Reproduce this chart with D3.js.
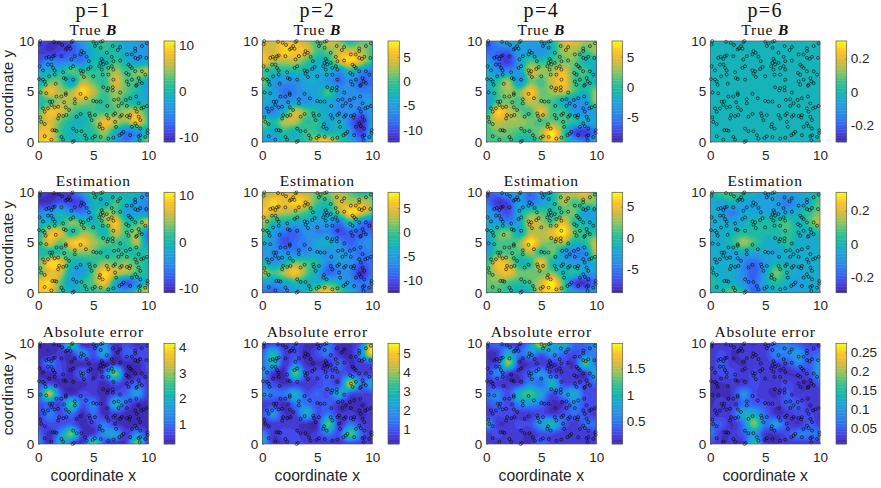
<!DOCTYPE html>
<html><head><meta charset="utf-8">
<script src="https://cdn.jsdelivr.net/npm/d3@7"></script>
<style>html,body{margin:0;padding:0;background:#fff}svg{display:block}</style>
</head><body><div id="chart"></div>
<script>
const columnTitles=["p=1","p=2","p=4","p=6"];
const rowTitles=["True","Estimation","Absolute error"];
const xLabel="coordinate x", yLabel="coordinate y";
const axisTicks=[0,5,10];

const trueP1=[
[-8,-10,-10,-8,-3,1,2,0,-2,-3,-3],
[-9,-10,-9,-8,-5,-1,1,0,-2,-3,-3],
[-8,-5,-6,-5,-6,0,-1,2,-1,-3,-2],
[-2,-1,0,3,2,1,2,5,2,4,6],
[-2,3,3,-3,5,3,1,7,3,2,-2],
[2,8,5,5,10,6,2,5,3,0,-3],
[0,2,5,5,5,3,1,4,1,-1,-1],
[3,8,7,3,1,2,2,3,5,6,1],
[4,7,3,0,-1,3,8,6,4,8,2],
[8,8,2,-1,1,1,5,-1,-6,-4,0],
[8,9,2,0,0,1,2,-2,-6,-1,5]];
const trueP2=[
[3,4,5,5,3,0,4,2,-2,1,1],
[5,4,7,6,5,0,1,4,4,3,0],
[6,3,3,3,0,-3,-2,4,7,4,-1],
[0,-2,-2,-2,-3,-4,-3,-6,-2,-6,-8],
[2,-5,-6,-6,-4,-4,-6,-8,-6,-9,-8],
[-2,-5,-8,-7,-5,-4,0,-5,-6,-7,-7],
[-3,-5,-6,-5,-6,-4,-4,-6,-7,-6,-5],
[-5,-7,-3,4,1,-2,-4,-6,-6,-8,-5],
[2,-2,3,3,-1,-1,-4,-3,-8,-12,-5],
[-2,-4,-1,-3,0,-1,-3,-2,-6,-11,-4],
[-5,-5,-2,-2,-1,5,6,0,-3,-8,-3]];
const trueP4=[
[-7,-4,-2,-2,-3,-2,-1,4,5,3,3],
[-6,-6,-6,-3,-3,-4,-1,3,3,1,3],
[-3,-6,-8,-3,1,0,1,2,2,-1,-1],
[-1,-4,-4,-3,4,3,3,5,1,1,-2],
[-2,0,3,-4,2,1,4,6,1,0,-1],
[-3,1,3,2,6,2,3,4,1,-1,3],
[-4,1,2,1,4,2,1,-2,-4,-3,3],
[-1,6,4,2,1,5,1,1,-3,-4,-2],
[1,4,3,3,2,1,2,1,0,-2,-2],
[1,2,2,1,1,3,7,1,-7,-8,-5],
[1,1,1,-1,-1,2,6,1,-3,-5,-2]];
const trueP6=[
[0,0,0,0,0,0,0,0,0,0,0],[0,0,0,0,0,0,0,0,0,0,0],[0,0,0,0,0,0,0,0,0,0,0],
[0,0,0,0,0,0,0,0,0,0,0],[0,0,0,0,0,0,0,0,0,0,0],[0,0,0,0,0,0,0,0,0,0,0],
[0,0,0,0,0,0,0,0,0,0,0],[0,0,0,0,0,0,0,0,0,0,0],[0,0,0,0,0,0,0,0,0,0,0],
[0,0,0,0,0,0,0,0,0,0,0],[0,0,0,0,0,0,0,0,0,0,0]];
const estP1=[
[-8,-10,-10,-8,-4,2,1,-1,0,-1,-4],
[-10,-10,-8,-9,-8,-1,-2,2,-1,-3,-5],
[-5,-4,-1,-4,-6,-1,4,3,-3,-3,-5],
[-1,-1,0,4,2,-1,3,8,1,2,7],
[-1,7,7,0,4,3,-1,6,2,4,-6],
[1,7,3,8,9,5,3,2,1,5,-5],
[0,0,1,3,4,3,0,1,1,0,1],
[3,9,8,0,-1,1,4,3,4,2,0],
[2,7,6,-2,-3,3,9,6,5,2,0],
[8,9,3,-3,1,3,8,-1,-8,-4,1],
[8,8,2,-1,0,1,1,-2,-3,3,8]];
const estP2=[
[2,3,4,4,3,1,2,3,1,-2,0],
[4,7,5,7,5,0,-1,4,3,4,2],
[6,4,3,2,0,-3,-3,2,7,5,1],
[3,-2,-3,-4,-4,-5,-5,-8,-2,-7,-10],
[0,-5,-8,-9,-6,-7,-7,-10,-9,-9,-8],
[-3,-6,-10,-8,-7,-4,-3,-6,-9,-7,-6],
[-5,-6,-6,-7,-6,-5,-6,-5,-7,-8,-7],
[-2,-6,-3,1,0,-2,-7,-5,-6,-9,-8],
[3,0,3,6,1,-4,-9,-7,-7,-12,-8],
[-4,-6,-4,-2,-3,-3,-1,-3,-6,-8,-7],
[-8,-9,-7,-5,-3,4,6,1,-3,-8,-9]];
const estP4=[
[-7,-5,-3,-3,-6,-3,-1,3,4,5,1],
[-5,-8,-7,-3,-5,-3,-1,3,1,2,2],
[-3,-5,-7,-2,1,1,0,1,2,-3,-2],
[-2,-3,-4,-2,4,3,1,5,0,-1,-2],
[-2,1,2,-2,3,3,5,7,2,0,0],
[-4,1,1,2,7,3,2,3,-1,0,4],
[-3,1,1,1,3,0,2,-3,-5,-4,4],
[0,5,4,-1,0,5,-1,-2,-3,-3,-1],
[1,4,5,2,2,2,2,-1,0,-3,-3],
[2,2,1,0,1,4,7,1,-7,-8,-5],
[1,1,0,-2,-1,5,6,1,-3,-4,-3]];
const estP6=[
[0,.08,.08,.02,-.04,-.05,-.06,-.05,-.05,-.02,.02],
[-.03,-.05,0,-.05,-.05,-.05,-.08,-.15,-.08,-.03,.1],
[-.02,-.06,-.15,-.05,-.05,-.05,-.05,-.06,-.02,.05,.12],
[-.03,-.04,-.05,-.03,.02,.03,.03,.08,-.02,.07,.18],
[-.02,-.02,-.01,.03,.01,.02,.02,.06,0,-.02,.03],
[-.02,-.04,.03,.14,.07,-.02,-.02,.05,-.03,-.03,-.02],
[-.03,-.04,-.05,-.03,-.05,-.04,-.05,-.03,-.03,-.03,-.03],
[-.02,-.04,-.03,-.12,-.18,-.08,-.01,-.02,-.04,-.04,-.02],
[0,-.03,-.02,-.12,-.2,-.06,.11,0,-.05,-.03,-.03],
[.03,-.01,-.02,-.1,-.18,-.04,.03,-.03,-.08,-.04,-.02],
[-.02,.02,.1,.02,-.2,-.06,-.03,-.05,-.06,-.05,-.05]];
const errP1=[
[.3,.3,.5,2.8,.3,.5,1.4,.3,.7,.3,.7],
[.3,.25,.5,.5,1.5,.7,1.8,.3,.9,.7,.7],
[.3,1.1,.6,.3,.3,.4,.3,.4,.3,.3,.7],
[.3,.3,.6,.3,1.1,.3,.9,2.8,.3,.3,.6],
[.7,.7,.3,.3,.3,.5,.3,.7,.5,.9,.5],
[.9,3.2,.9,.3,.7,.5,.3,.7,.9,1.6,.5],
[.7,.9,.6,2.5,.8,1.2,.3,2,.9,.3,.3],
[.5,1.2,.7,1.1,.3,1,.3,.6,.3,.3,.3],
[.5,.7,.7,.8,.3,.6,1.1,.5,.3,.3,.3],
[1.1,.3,1.4,2.8,.5,.5,1.4,1.7,.5,1.4,.4],
[1.4,.3,1.9,.8,.3,3,.6,.3,.5,3,.4]];
const errP2=[
[.5,.7,.5,.9,.4,.4,1.4,.4,.4,1.3,5],
[1.1,2.8,.7,.9,.3,.9,1.4,.4,.3,2,5.5],
[1.2,2.8,.5,1.4,.4,.4,.4,1.2,.4,.7,.9],
[1.9,.5,.3,3.5,.9,.9,.9,.9,.9,.7,.7],
[1.1,.8,.4,.7,.5,.7,1.1,.8,4.3,1.4,2.5],
[1.9,1.4,1.4,2.5,.9,1.2,.9,2.5,.9,.7,.7],
[.5,.7,.4,1.4,1.4,.9,1.1,.5,.4,.4,.5],
[.9,1.9,.5,.7,2.5,.9,1.4,.5,.6,.3,.7],
[.4,.6,.6,.5,.4,.4,3.5,.5,1.4,.7,.5],
[1.8,.5,.9,.8,.4,.7,1.5,.9,3.5,1.2,.5],
[2.5,.4,.6,.9,.7,.5,.5,.4,.7,.6,.4]];
const errP4=[
[.35,.45,.2,.2,.7,1.7,.8,1,.45,.45,.7],
[.15,.2,.9,.45,.7,.45,.7,.45,.3,.45,.6],
[.2,.3,1.4,.2,.2,.2,.2,.3,.2,1.2,.45],
[.2,.6,.2,.2,.45,.7,.3,.2,.2,.2,.9],
[.2,.2,.2,.2,.6,.45,1,.3,.3,.3,.45],
[.45,.6,.3,1,1.2,.8,.3,.6,.9,.3,.3],
[.3,.45,.3,.6,.7,.45,.15,.2,.6,.3,.3],
[.2,.3,.3,.2,.2,.3,.2,.3,.45,.3,.2],
[.8,.2,.2,.3,.3,.8,1,.45,.2,.45,.45],
[.2,.3,.2,.2,.15,.3,.3,.2,.2,.2,.2],
[.2,.15,.2,.2,.15,.45,.2,.2,.2,.2,.2]];
const errP6=[
[.02,.02,.025,.025,.02,.03,.06,.07,.05,.03,.03],
[.02,.04,.02,.025,.025,.03,.08,.08,.1,.05,.06],
[.02,.05,.025,.02,.025,.025,.04,.04,.08,.05,.1],
[.02,.04,.04,.025,.04,.025,.025,.02,.025,.04,.11],
[.02,.02,.025,.025,.04,.025,.025,.04,.025,.02,.05],
[.02,.02,.025,.09,.04,.025,.02,.05,.025,.025,.025],
[.02,.025,.025,.06,.05,.04,.025,.05,.05,.025,.025],
[.025,.025,.04,.12,.12,.06,.02,.025,.04,.04,.02],
[.05,.05,.02,.07,.19,.07,.1,.04,.02,.05,.025],
[.07,.025,.025,.05,.1,.025,.025,.04,.07,.07,.07],
[.04,.02,.025,.025,.16,.025,.02,.025,.025,.025,.025]];

const colourDomains=[
[[-11,11],[-12.5,8.3],[-9.07,7.6],[-.3,.305]],
[[-10.9,10.7],[-12.5,8.3],[-8.8,7.3],[-.293,.31]],
[[.21,4.17],[.21,5.53],[.08,1.97],[.009,.274]]];
const colourTicks=[
[[-10,0,10],[-10,-5,0,5],[-5,0,5],[-.2,0,.2]],
[[-10,0,10],[-10,-5,0,5],[-5,0,5],[-.2,0,.2]],
[[1,2,3,4],[1,2,3,4,5],[.5,1,1.5],[.05,.1,.15,.2,.25]]];
const fields=[[trueP1,trueP2,trueP4,trueP6],[estP1,estP2,estP4,estP6],[errP1,errP2,errP4,errP6]];

const sensors=[[.18,10],[.12,9.67],[1.43,9.93],[1.86,9.83],[2.16,9.6],[2.5,9.17],[2.62,9.27],[2.8,9.5],[3.02,9.9],[3.11,10],[2.93,9.23],[5,9.93],[5.3,9.77],[5.67,9.93],[5.85,10],[5.15,9.5],[5.67,9.33],[6.77,9.5],[7.44,9.4],[7.23,9.1],[8.81,9.27],[8.81,9],[9.42,9.5],[9.88,9.77],[8.5,8.67],[8.05,8.67],[9.27,8.43],[9.82,8.33],[9.05,8.23],[8.81,8.33],
[.73,8.33],[.95,8.43],[1.34,8.5],[1.49,8.57],[1.19,8.23],[2.1,8.5],[3.93,9],[4.15,8.83],[3.84,8.67],[4.39,8.43],[4.6,8],[3.02,8.17],[3.32,8.5],[5.76,8.23],[5.85,8],[5.91,7.67],[5.67,7.83],[6.22,8.83],[6.68,8.43],[6.83,8],[7.44,8.07],[6.22,7.83],[6.68,7.5],
[.12,7.5],[.43,7.1],[.88,7.67],[1.19,7.67],[1.34,7.33],[1.49,7.07],[2.26,6.9],[2.93,7.33],[3.17,7.5],[3.84,7.1],[4.09,7],[3.93,6.77],[4.15,6.43],[4.76,7.43],[4.54,7.23],[5.55,7.5],[5.76,7.17],[6.37,7.33],[6.83,7.17],[8.2,7.67],[8.35,7.5],[8.51,7.33],[8.81,7],[9.42,7],[9.73,6.67],[8.2,6.67],[7.99,6.83],
[.06,6.23],[.43,6.17],[.58,6],[.67,5.67],[.98,6.5],[1.49,6.67],[1.59,5.77],[2.32,6.33],[2.5,6.23],[3.17,6.17],[5,6.5],[5.85,6.67],[6.37,6.67],[6.83,6.17],[9.12,6.33],[9.21,6],[8.96,5.67],[8.9,5.57],[9.42,5.83],[8.51,6.17],[8.05,6],[8.2,5.67],[6.37,5.33],[6.77,5.43],[6.77,5.1],[6.28,5.1],[7.44,4.9],[5.91,5.43],
[.21,4.9],[.73,4.83],[1.65,4.5],[2.1,4.5],[2.5,4.67],[2.5,4.83],[3.84,4.77],[4.33,4.33],[5,4.07],[5.3,4],[5.67,4],[6.28,3.57],[6.89,4.17],[7.29,4.23],[7.59,3.83],[7.96,4.17],[8.35,4.33],[8.05,3.57],[8.9,4.5],[9.12,3.83],[9.36,3.33],[9.88,3.57],[9.57,3.43],
[1.04,4],[1.28,4],[1.19,3.67],[1.49,3.43],[1.8,3.5],[2.35,3.93],[2.5,3.43],[3.32,4.23],[3.32,3.83],[.43,3.33],[.58,3],[.88,3.33],[2.8,3.17],[1.89,2.67],[1.8,2.33],[2.26,2.57],[2.56,2.67],[3.48,2.5],[3.84,2.77],[4.63,2.83],[4.7,2.57],[5.15,2.67],[4.85,2.17],[6.22,2.67],[6.37,2.33],[6.83,2.67],[6.98,2.83],[7.44,2.5],[7.59,2.67],[8.05,2.57],[8.35,2.67],[8.29,2.43],[7.29,3.57],[8.81,3.33],[8.96,3],[9.12,2.5],[9.27,2.17],
[.18,2.43],[.27,2],[.58,1.77],[1.28,1.17],[1.49,1.17],[1.65,1.1],[3.17,1.33],[3.48,1.07],[3.93,1.07],[4.24,.67],[4.39,.33],[4.94,.4],[5.15,.57],[5.67,.5],[6.37,.33],[6.83,.43],[7.38,.67],[7.59,.83],[7.74,1],[8.35,.67],[8.81,1.83],[8.96,1.57],[9.27,1.33],[8.51,1.5],[5.61,1.77],[5.85,1.33],[5.55,1.5],[.58,.57],[1.19,.23],[2.1,.5],[2.26,.23],[3.11,0],[3.23,.1],[9.27,.67],[9.94,1.17],[9.94,.9],[9.73,.5],[9.21,.17],[9.12,.57],[6.98,2],[7.07,1.5]];

const parula=["#3e26a8","#4743e8","#2f6ff6","#2a8fe9","#1ba5da","#14b9ae","#3ac28c","#8fc460","#d9ba3b","#fdc328","#f9fb15"];

const W=881,H=488;
const colX=[[38.3,148.3,164,175],[262.3,372.3,388,399.3],[486.3,596.3,612,622.7],[710.3,820,836,846.7]];
const rowY=[[41,142],[192.3,292.7],[343.3,444]];
const titleY=[34.5,186,337];
const sansFont='"Liberation Sans",Arial,sans-serif', serifFont='"Liberation Serif",serif', ink="#262626", frame="#5a5a5a";

const svg=d3.select("#chart").append("svg").attr("width",W).attr("height",H).attr("viewBox",[0,0,W,H]);
const parulaAt=d3.scaleLinear().domain(parula.map((_,i)=>i/(parula.length-1))).range(parula).interpolate(d3.interpolateRgb);

// Catmull-Rom resampling of a coarse field so that contour bands are smooth
function resample(grid,k){
  const n=grid.length,m=(n-1)*k+1,out=new Float64Array(m*m);
  const at=(r,c)=>grid[Math.max(0,Math.min(n-1,r))][Math.max(0,Math.min(n-1,c))];
  const cr=(a,b,c,d,t)=>.5*(2*b+(c-a)*t+(2*a-5*b+4*c-d)*t*t+(3*b-a-3*c+d)*t*t*t);
  for(let j=0;j<m;j++){const r=Math.floor(j/k),v=j/k-r;
    for(let i=0;i<m;i++){const c=Math.floor(i/k),u=i/k-c;
      const row=q=>cr(at(r+q,c-1),at(r+q,c),at(r+q,c+1),at(r+q,c+2),u);
      out[j*m+i]=cr(row(-1),row(0),row(1),row(2),v);}}
  return {values:out,size:m};
}

const BANDS=22;
fields.forEach((rowFields,r)=>rowFields.forEach((grid,c)=>{
  const [x0,x1,cb0,cb1]=colX[c],[y0,y1]=rowY[r],dom=colourDomains[r][c];
  const x=d3.scaleLinear().domain([0,10]).range([x0,x1]);
  const y=d3.scaleLinear().domain([0,10]).range([y1,y0]);
  const tone=d3.scaleLinear().domain(dom).range([0,1]).clamp(true);
  const g=svg.append("g");
  const clip=`clip-${r}-${c}`;
  g.append("clipPath").attr("id",clip).append("rect").attr("x",x0).attr("y",y0).attr("width",x1-x0).attr("height",y1-y0);
  const {values,size}=resample(grid,10);
  const thresholds=d3.range(BANDS).map(i=>dom[0]+(dom[1]-dom[0])*i/BANDS);
  const bands=d3.contours().size([size,size]).smooth(true).thresholds(thresholds)(Array.from(values));
  const path=d3.geoPath(d3.geoTransform({point(px,py){
    this.stream.point(x((px-.5)/(size-1)*10),y(10-(py-.5)/(size-1)*10));}}));
  const plot=g.append("g").attr("clip-path",`url(#${clip})`);
  plot.append("rect").attr("x",x0).attr("y",y0).attr("width",x1-x0).attr("height",y1-y0).attr("fill",parulaAt(tone(r===0&&c===3?0:dom[0])));
  plot.selectAll("path").data(bands.filter(d=>d.coordinates.length)).join("path")
    .attr("d",path).attr("fill",d=>parulaAt(tone(d.value+(dom[1]-dom[0])/BANDS/2)))
    .attr("stroke",d=>parulaAt(tone(d.value+(dom[1]-dom[0])/BANDS/2))).attr("stroke-width",.3);

  g.append("g").selectAll("circle").data(sensors).join("circle")
    .attr("cx",d=>x(d[0])).attr("cy",d=>y(d[1])).attr("r",1.5)
    .attr("fill","none").attr("stroke","#000").attr("stroke-width",.65).attr("stroke-opacity",.85);

  const style=s=>{s.selectAll("text").attr("font-family",sansFont).attr("font-size",13.5).attr("fill",ink);
    s.selectAll("line").attr("stroke",frame).attr("stroke-width",.6);s.select(".domain").remove();};
  g.append("g").attr("transform",`translate(0,${y1})`).call(d3.axisBottom(x).tickValues(axisTicks).tickSize(-1.5).tickPadding(8)).call(style);
  g.append("g").attr("transform",`translate(${x0},0)`).call(d3.axisLeft(y).tickValues(axisTicks).tickSize(-1.5).tickPadding(4)).call(style);
  g.append("rect").attr("x",x0).attr("y",y0).attr("width",x1-x0).attr("height",y1-y0).attr("fill","none").attr("stroke",frame).attr("stroke-width",.7);

  // colour bar
  const cy=d3.scaleLinear().domain(dom).range([y1,y0]);
  const steps=d3.range(64).map(i=>dom[0]+(dom[1]-dom[0])*i/64);
  g.append("g").selectAll("rect").data(steps).join("rect")
    .attr("x",cb0).attr("width",cb1-cb0).attr("y",d=>cy(d+(dom[1]-dom[0])/64)-.2)
    .attr("height",(y1-y0)/64+.4).attr("fill",d=>parulaAt(tone(d+(dom[1]-dom[0])/128)));
  g.append("g").attr("transform",`translate(${cb1},0)`).call(d3.axisRight(cy).tickValues(colourTicks[r][c]).tickFormat(String).tickSize(-1.5).tickPadding(4)).call(style);
  g.append("rect").attr("x",cb0).attr("y",y0).attr("width",cb1-cb0).attr("height",y1-y0).attr("fill","none").attr("stroke",frame).attr("stroke-width",.7);

  // titles
  const cx=(x0+x1)/2;
  const t=g.append("text").attr("x",cx).attr("y",titleY[r]).attr("text-anchor","middle").attr("font-family",serifFont).attr("font-size",15.5).attr("letter-spacing",.8).attr("fill","#111");
  t.append("tspan").text(rowTitles[r]);
  if(r===0){t.append("tspan").text(" ");t.append("tspan").attr("font-style","italic").attr("font-weight","bold").text("B");}
  if(r===0) g.append("text").attr("x",cx).attr("y",17).attr("text-anchor","middle").attr("font-family",serifFont).attr("font-size",20).attr("letter-spacing",1.4).attr("fill","#111").text(columnTitles[c]);
  if(c===0) g.append("text").attr("transform",`translate(13,${(y0+y1)/2}) rotate(-90)`).attr("text-anchor","middle").attr("font-family",sansFont).attr("font-size",15.3).attr("fill",ink).text(yLabel);
  if(r===2) g.append("text").attr("x",cx).attr("y",481).attr("text-anchor","middle").attr("font-family",sansFont).attr("font-size",15.7).attr("fill",ink).text(xLabel);
}));
</script></body></html>
